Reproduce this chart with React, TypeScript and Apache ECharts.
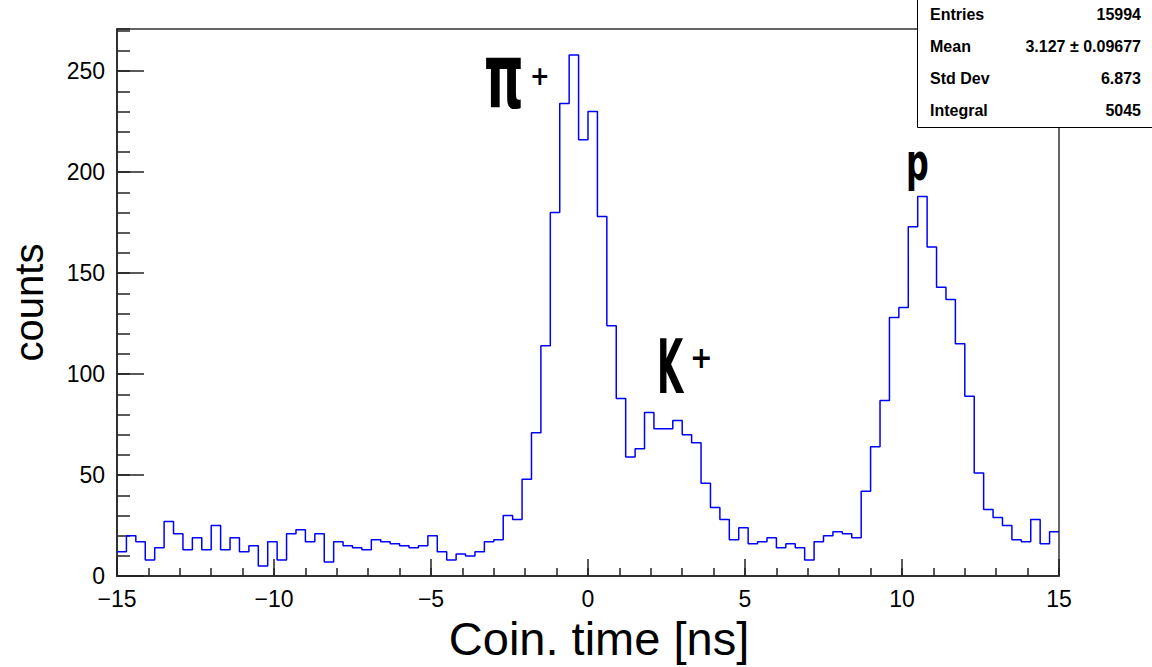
import React, { useEffect, useRef } from "react";
import * as echarts from "echarts";

const counts: number[] = [
  12, 20, 17, 8, 14, 27, 21, 13, 19, 13,
  25, 13, 19, 12, 15, 5, 17, 8, 21, 23,
  17, 21, 7, 17, 15, 14, 13, 18, 17, 16,
  15, 14, 15, 20, 12, 8, 11, 10, 12, 17,
  18, 30, 28, 48, 71, 114, 180, 234, 258, 216,
  230, 178, 124, 88, 59, 63, 81, 73, 73, 77,
  70, 66, 46, 34, 28, 18, 24, 16, 17, 19,
  14, 16, 14, 8, 17, 20, 22, 21, 19, 42,
  64, 87, 128, 133, 173, 188, 163, 143, 137, 115,
  89, 51, 33, 29, 25, 18, 17, 28, 16, 22,
];
const xMin = -15;
const xMax = 15;
const yMaxAxis = 270.9;
const statsLabels = ["Entries", "Mean", "Std Dev", "Integral"];
const statsValues = ["15994", "3.127 \u00b1 0.09677", "6.873", "5045"];
const peakLabels = [
  { main: "\u03c0", sup: "+" },
  { main: "K", sup: "+" },
  { main: "p", sup: "" },
];

export default function App() {
  const ref = useRef<HTMLDivElement>(null);
  useEffect(() => {
    if (!ref.current) return;
    const chart = echarts.init(ref.current, null, { renderer: "svg" });
    const bw = (xMax - xMin) / counts.length;
    const pts: number[][] = counts.map((c, i) => [xMin + i * bw, c]);
    pts.push([xMax, counts[counts.length - 1]]);
    const font = "'Liberation Sans', Arial, Helvetica, sans-serif";
    const bigFont = "'DejaVu Sans Condensed', 'DejaVu Sans', sans-serif";
    const minus = (v: number) => String(v).replace("-", "\u2212");
    const statRows: any[] = [];
    statsLabels.forEach((l, i) => {
      const y = 14 + i * 32;
      statRows.push({ type: "text", x: 930, y, style: { text: l, font: `bold 16px ${font}`, fill: "#000", textVerticalAlign: "middle" } });
      statRows.push({ type: "text", x: 1141, y, style: { text: statsValues[i], font: `bold 16px ${font}`, fill: "#000", textAlign: "right", textVerticalAlign: "middle" } });
    });
    const axisColor = "#222";
    chart.setOption({
      animation: false,
      grid: { left: 117, right: 93, top: 29, bottom: 87, show: true, borderColor: "#333", borderWidth: 1.5, backgroundColor: "transparent" },
      xAxis: [
        {
          type: "value", min: xMin, max: xMax, interval: 5, position: "bottom",
          name: "Coin. time [ns]", nameLocation: "middle", nameGap: 37,
          nameTextStyle: { fontSize: 47, fontFamily: font, color: "#000", verticalAlign: "top", padding: [0, 0, 0, 22] },
          axisLine: { show: true, onZero: false, lineStyle: { color: axisColor, width: 1.5 } },
          axisTick: { show: true, inside: true, length: 17, lineStyle: { color: axisColor, width: 1.5 } },
          axisLabel: { fontSize: 23, fontFamily: font, color: "#000", margin: 11, formatter: minus },
          splitLine: { show: false },
        },
        {
          type: "value", min: xMin, max: xMax, interval: 1, position: "bottom",
          axisLine: { show: false, onZero: false }, axisLabel: { show: false }, splitLine: { show: false },
          axisTick: { show: true, inside: true, length: 8, lineStyle: { color: axisColor, width: 1.5 } },
        },
      ],
      yAxis: [
        {
          type: "value", min: 0, max: yMaxAxis, interval: 50, position: "left",
          name: "counts", nameLocation: "middle", nameGap: 68,
          nameTextStyle: { fontSize: 40, fontFamily: font, color: "#000" },
          axisLine: { show: true, onZero: false, lineStyle: { color: axisColor, width: 1.5 } },
          axisTick: { show: true, inside: true, length: 27, lineStyle: { color: axisColor, width: 1.5 } },
          axisLabel: { fontSize: 23, fontFamily: font, color: "#000", margin: 12, showMaxLabel: false, lineHeight: 20 },
          splitLine: { show: false },
        },
        {
          type: "value", min: 0, max: yMaxAxis, interval: 10, position: "left",
          axisLine: { show: false, onZero: false }, axisLabel: { show: false }, splitLine: { show: false },
          axisTick: { show: true, inside: true, length: 13, lineStyle: { color: axisColor, width: 1.5 } },
        },
      ],
      series: [
        {
          type: "line", xAxisIndex: 0, yAxisIndex: 0, step: "end", data: pts,
          showSymbol: false, symbol: "none",
          lineStyle: { color: "#0000ff", width: 1.5 },
        },
      ],
      graphic: [
        { type: "text", x: 484, y: 122, scaleX: 0.62, style: { text: peakLabels[0].main, font: `bold 90px ${bigFont}`, fill: "#000", textVerticalAlign: "bottom" } },
        { type: "text", x: 530, y: 76, style: { text: peakLabels[0].sup, font: `bold 26px ${bigFont}`, fill: "#000", textVerticalAlign: "middle" } },
        { type: "text", x: 657, y: 405, scaleX: 0.5, style: { text: peakLabels[1].main, font: `bold 75px ${bigFont}`, fill: "#000", textVerticalAlign: "bottom" } },
        { type: "text", x: 690, y: 357, style: { text: peakLabels[1].sup, font: `bold 30px ${bigFont}`, fill: "#000", textVerticalAlign: "middle" } },
        { type: "text", x: 906, y: 188, scaleX: 0.68, style: { text: peakLabels[2].main, font: `bold 52px ${bigFont}`, fill: "#000", textVerticalAlign: "bottom" } },
        { type: "rect", shape: { x: 917.5, y: -1, width: 240, height: 128.5 }, style: { fill: "#fff", stroke: "#000", lineWidth: 1 } },
        ...statRows,
      ],
    });
    return () => chart.dispose();
  }, []);
  return <div ref={ref} style={{ position: "fixed", left: 0, top: 0, width: 1152, height: 667, background: "#fff" }} />;
}
